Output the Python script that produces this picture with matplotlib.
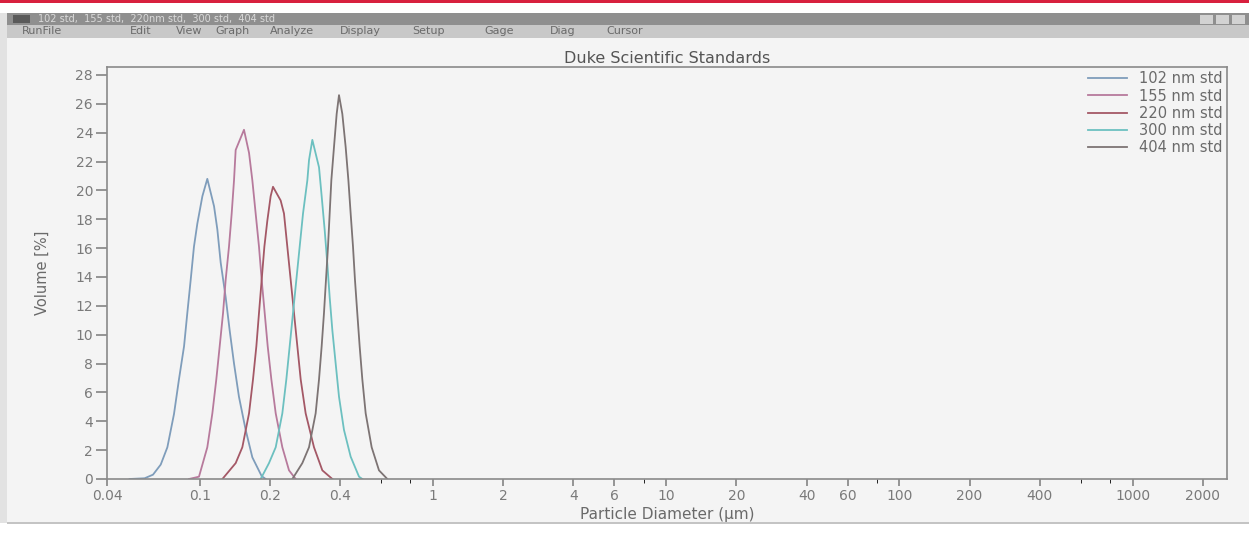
import numpy as np
import matplotlib.pyplot as plt
from matplotlib.patches import Rectangle
from matplotlib.ticker import NullFormatter

W, H = 1249, 538

# particle diameter (um) / volume (%)
x102 = [0.050, 0.058, 0.063, 0.068, 0.0726, 0.0775, 0.0814, 0.0856, 0.0884, 0.0914, 0.0944,
        0.0976, 0.1026, 0.1077, 0.1151, 0.1189, 0.1229, 0.1291, 0.1343, 0.1402, 0.1472,
        0.1573, 0.168, 0.1842, 0.1917]
y102 = [0, 0.05, 0.3, 1.0, 2.2, 4.5, 6.9, 9.2, 11.5, 13.8, 16.1,
        17.7, 19.6, 20.8, 18.9, 17.3, 15.0, 12.6, 10.3, 8.0, 5.7,
        3.4, 1.5, 0.2, 0]

x155 = [0.0899, 0.0992, 0.1077, 0.1132, 0.1177, 0.1217, 0.1258, 0.1291, 0.1334, 0.1370,
        0.1402, 0.1425, 0.1547, 0.1626, 0.168, 0.1736, 0.1794, 0.1842, 0.1898, 0.1955,
        0.2027, 0.2116, 0.2259, 0.2413, 0.2577]
y155 = [0, 0.16, 2.2, 4.55, 6.9, 9.2, 11.5, 13.8, 16.1, 18.4,
        20.7, 22.8, 24.2, 22.6, 20.7, 18.4, 16.1, 13.8, 11.5, 9.2,
        6.9, 4.55, 2.2, 0.6, 0]

x220 = [0.125, 0.1425, 0.1522, 0.1626, 0.1691, 0.1748, 0.1794, 0.1842, 0.1892, 0.1948,
        0.2013, 0.206, 0.2222, 0.2296, 0.2373, 0.2453, 0.2535, 0.262, 0.2708, 0.2844,
        0.3088, 0.3353, 0.3702]
y220 = [0, 1.1, 2.2, 4.55, 6.9, 9.2, 11.5, 13.8, 16.1, 17.9,
        19.6, 20.25, 19.3, 18.4, 16.1, 13.8, 11.5, 9.2, 6.9, 4.55,
        2.2, 0.6, 0]

x300 = [0.1824, 0.198, 0.2116, 0.2259, 0.235, 0.2429, 0.251, 0.2594, 0.2681, 0.2771,
        0.2892, 0.294, 0.3038, 0.3245, 0.3331, 0.3432, 0.3523, 0.3605, 0.3702, 0.3825,
        0.3953, 0.4152, 0.4435, 0.4817, 0.4977]
y300 = [0, 1.1, 2.2, 4.55, 6.9, 9.2, 11.5, 13.8, 16.1, 18.4,
        20.7, 22.1, 23.5, 21.6, 19.6, 17.25, 14.9, 12.6, 10.3, 8.0,
        5.7, 3.4, 1.55, 0.16, 0]

x404 = [0.2494, 0.2752, 0.294, 0.3139, 0.3245, 0.3331, 0.3408, 0.3476, 0.3546, 0.3605,
        0.3665, 0.3762, 0.3863, 0.3953, 0.4085, 0.4222, 0.4337, 0.4435, 0.4539, 0.4628,
        0.4735, 0.4847, 0.4977, 0.5144, 0.5457, 0.5867, 0.6371]
y404 = [0, 1.1, 2.2, 4.55, 6.9, 9.2, 11.5, 13.8, 16.1, 18.4,
        20.7, 23.0, 25.3, 26.6, 25.3, 23.0, 20.7, 18.4, 16.1, 13.8,
        11.5, 9.2, 6.9, 4.55, 2.2, 0.6, 0]

series = [(x102, y102), (x155, y155), (x220, y220), (x300, y300), (x404, y404)]
labels = ['102 nm std', '155 nm std', '220 nm std', '300 nm std', '404 nm std']
colors = ['#7f9dbb', '#b77a9c', '#a45866', '#6cc0c0', '#7d7474']

xticks = [0.04, 0.1, 0.2, 0.4, 1, 2, 4, 6, 10, 20, 40, 60, 100, 200, 400, 1000, 2000]
xticklabels = ['0.04', '0.1', '0.2', '0.4', '1', '2', '4', '6', '10', '20', '40', '60',
               '100', '200', '400', '1000', '2000']
xminor = [0.6, 0.8, 8, 80, 600, 800]
yticks = list(range(0, 29, 2))

menu = ['RunFile', 'Edit', 'View', 'Graph', 'Analyze', 'Display', 'Setup', 'Gage', 'Diag', 'Cursor']
menu_x = [22, 130, 176, 215, 270, 340, 412, 484, 550, 606]


def box(x, y, w, h, c):
    # rectangle in screenshot pixels (top-left origin), kept behind the axes
    fig.add_artist(Rectangle((x / W, 1 - (y + h) / H), w / W, h / H,
                             transform=fig.transFigure, facecolor=c, edgecolor='none',
                             zorder=-10))


fig = plt.figure(figsize=(W / 100, H / 100), dpi=100, facecolor='white')

# window chrome
box(0, 0, W, 2.5, '#d8203e')
box(0, 13, 7, 510, '#e2e2e2')
box(7, 13, W - 7, 12, '#8f8f8f')
box(13, 15, 17, 8, '#5a5a5a')
box(7, 25, W - 7, 13, '#c8c8c8')
box(7, 38, W - 7, 485, '#f4f4f4')
box(7, 522, W - 7, 1.5, '#c4c4c4')
for bx in [1200, 1216, 1232]:
    box(bx, 15, 13, 9, '#d2d2d2')
fig.text(38 / W, 1 - 19 / H, '102 std,  155 std,  220nm std,  300 std,  404 std',
         fontsize=7, color='#dadada', va='center')
for name, mx in zip(menu, menu_x):
    fig.text(mx / W, 1 - 31.5 / H, name, fontsize=8, color='#6a6a6a', va='center')

ax = fig.add_axes([107 / W, 59 / H, 1120 / W, 412 / H])
ax.set_facecolor('#f4f4f4')

for (xs, ys), lab, c in zip(series, labels, colors):
    ax.plot(xs, ys, color=c, lw=1.3, label=lab)

ax.set_xscale('log')
ax.set_xlim(0.04, 2540)
ax.set_ylim(0, 28.55)
ax.set_xticks(xticks)
ax.set_xticklabels(xticklabels)
ax.set_xticks(xminor, minor=True)
ax.xaxis.set_minor_formatter(NullFormatter())
ax.set_yticks(yticks)

gray = '#7a7a7a'
for s in ax.spines.values():
    s.set_color('#8a8a8a')
    s.set_linewidth(1.2)
ax.tick_params(axis='both', colors=gray, labelsize=10, width=1.1)
ax.tick_params(axis='y', length=8, pad=2)
ax.tick_params(axis='x', length=5, pad=2)
ax.tick_params(axis='x', which='minor', length=3)

ax.set_title('Duke Scientific Standards', fontsize=11.5, color='#555555', pad=3)
ax.set_xlabel('Particle Diameter (\u00b5m)', fontsize=11, color='#6a6a6a', va='center')
ax.xaxis.set_label_coords(0.5, -0.085)
ax.set_ylabel('Volume [%]', fontsize=10.5, color='#6a6a6a', va='center')
ax.yaxis.set_label_coords(-0.058, 0.5)

leg = ax.legend(loc='upper right', frameon=False, fontsize=10.5, handlelength=2.7,
                handletextpad=0.8, labelspacing=0.15, borderaxespad=0.1, borderpad=0.2)
for t in leg.get_texts():
    t.set_color('#6a6a6a')

fig.savefig('out.png', dpi=100, facecolor='white')
